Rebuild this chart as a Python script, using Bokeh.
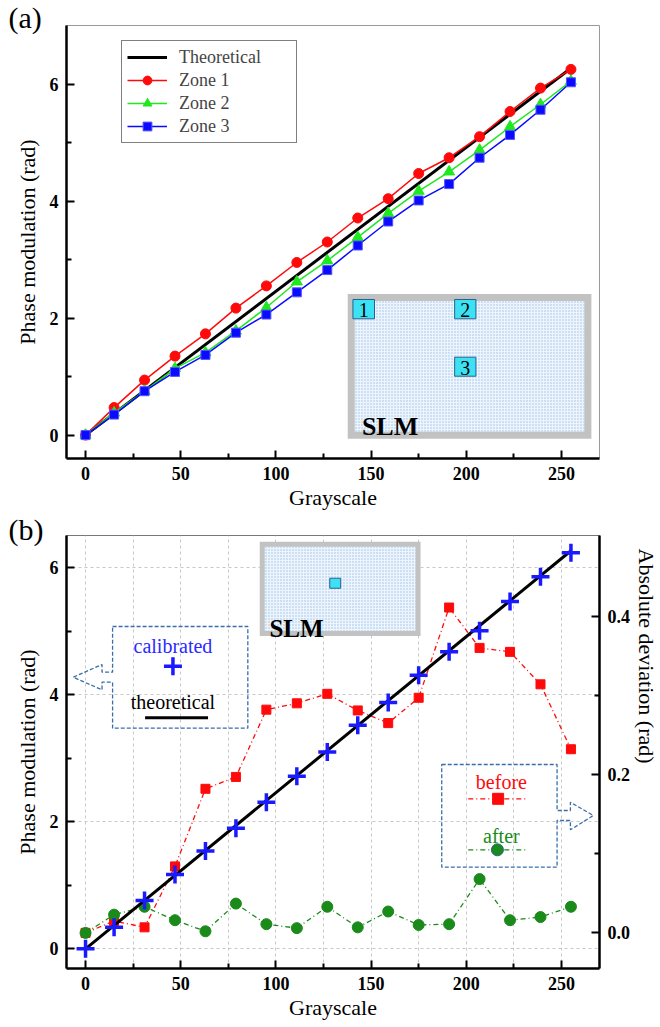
import math
from bokeh.plotting import figure
from bokeh.models import (Range1d, LinearAxis, FixedTicker, Legend, LegendItem,
                          Label, PrintfTickFormatter, Title)
from bokeh.layouts import column
from bokeh.embed import file_html
from bokeh.resources import INLINE

# ---------------- data ----------------
grayscale = [0, 15, 31, 47, 63, 79, 95, 111, 127, 143, 159, 175, 191, 207, 223, 239, 255]
zone1 = [0, 0.47, 0.94, 1.35, 1.73, 2.17, 2.55, 2.95, 3.30, 3.71, 4.04, 4.47, 4.74, 5.10, 5.53, 5.93, 6.25]
zone2 = [0, 0.38, 0.75, 1.14, 1.41, 1.78, 2.18, 2.62, 2.98, 3.38, 3.79, 4.17, 4.50, 4.87, 5.27, 5.65, 6.05]
zone3 = [0, 0.35, 0.75, 1.08, 1.37, 1.75, 2.06, 2.44, 2.82, 3.24, 3.65, 4.01, 4.29, 4.74, 5.13, 5.56, 6.03]
theory_x = [0, 255]
theory_y = [0, 6.27]
calibrated = [0, 0.34, 0.76, 1.17, 1.54, 1.90, 2.31, 2.72, 3.10, 3.52, 3.88, 4.31, 4.68, 5.01, 5.47, 5.86, 6.24]
before = [0.0, 0.015, 0.007, 0.084, 0.182, 0.197, 0.282, 0.290, 0.302, 0.281, 0.265, 0.297, 0.411, 0.360, 0.355, 0.314, 0.232]
after = [0.0, 0.023, 0.033, 0.016, 0.002, 0.037, 0.011, 0.006, 0.033, 0.007, 0.027, 0.010, 0.011, 0.068, 0.016, 0.020, 0.033]

x_ticks = [0, 50, 100, 150, 200, 250]
x_minor = [25, 75, 125, 175, 225]
y_ticks = [0, 2, 4, 6]
y_minor = [1, 3, 5]
dev_ticks = [0.0, 0.2, 0.4]
dev_minor = [0.1, 0.3]

SERIF = "Liberation Serif"
RED = "#ff0a0a"
GREEN_A = "#1ee81e"
BLUE_A = "#0a0aff"
GREEN_B = "#1a8a1a"
BLUE_B = "#1a1aff"
BOX = "#3a6ea8"
HATCH = "#8db7e6"


def style_axis(ax, label_standoff=2):
    ax.axis_line_width = 2.5
    ax.axis_line_color = "black"
    ax.major_tick_in = 8
    ax.major_tick_out = 0
    ax.minor_tick_in = 5
    ax.minor_tick_out = 0
    ax.major_tick_line_width = 2
    ax.minor_tick_line_width = 2
    ax.major_tick_line_color = "black"
    ax.minor_tick_line_color = "black"
    ax.major_label_text_font = SERIF
    ax.major_label_text_font_style = "bold"
    ax.major_label_text_font_size = "18px"
    ax.major_label_text_color = "black"
    ax.major_label_standoff = 8
    ax.axis_label_text_font = SERIF
    ax.axis_label_text_font_style = "normal"
    ax.axis_label_text_font_size = "22px"
    ax.axis_label_text_color = "black"
    ax.axis_label_standoff = label_standoff


def style_title(t, standoff):
    t.align = "left"
    t.offset = -58
    t.standoff = standoff
    t.vertical_align = "bottom"
    t.text_font = SERIF
    t.text_font_size = "30px"
    t.text_font_style = "normal"
    t.text_color = "black"


def txt(p, x, y, text, size, color="black", bold=False, align="center", baseline="middle"):
    p.add_layout(Label(x=x, y=y, text=text,
                       text_font=SERIF, text_font_size=size, text_color=color,
                       text_font_style="bold" if bold else "normal",
                       text_align=align, text_baseline=baseline))


# ---------------- panel (a) ----------------
pa = figure(width=660, height=512, x_range=Range1d(-10, 270), y_range=Range1d(-0.4, 7.0),
            title="(a)", output_backend="svg", toolbar_location=None,
            min_border_left=66, min_border_right=58, min_border_top=25, min_border_bottom=54)
style_title(pa.title, -16)
pa.grid.visible = False
pa.outline_line_color = "#999999"
pa.outline_line_width = 1
pa.xaxis.ticker = FixedTicker(ticks=x_ticks, minor_ticks=x_minor)
pa.yaxis.ticker = FixedTicker(ticks=y_ticks, minor_ticks=y_minor)
pa.xaxis.axis_label = "Grayscale"
pa.yaxis.axis_label = "Phase modulation (rad)"
style_axis(pa.xaxis[0], 2)
style_axis(pa.yaxis[0], 7)


# SLM inset (a)  (reference-pixel -> data helpers, decoration only)
def ax_(px):
    return (px - 85.1) / 1.9143


def ay_(py):
    return (434.6 - py) / 58.51


pa.quad(left=[ax_(352.3)], right=[ax_(590.3)], bottom=[ay_(434.7)], top=[ay_(297.0)],
        fill_color="#edf4fc", hatch_pattern="dot", hatch_color=HATCH, hatch_scale=3,
        hatch_weight=1, hatch_alpha=0.85, line_color="#c2c2c2", line_width=7, line_join="miter")
for (l, r, t, b, s) in [(354, 375.7, 299, 318.3, "1"), (456.3, 477.7, 299, 318.3, "2"),
                        (456.3, 477.7, 356.7, 375.7, "3")]:
    pa.quad(left=[ax_(l)], right=[ax_(r)], top=[ay_(t)], bottom=[ay_(b)],
            fill_color="#3ce2f4", line_color="#2d5f8f", line_width=1)
    txt(pa, ax_((l + r) / 2), ay_((t + b) / 2 + 1), s, "20px")
txt(pa, ax_(363), ay_(425.7), "SLM", "26px", bold=True, align="left", baseline="alphabetic")

l0 = pa.line(theory_x, theory_y, line_color="black", line_width=3)
l1 = pa.line(grayscale, zone1, line_color=RED, line_width=1.5)
m1 = pa.scatter(grayscale, zone1, marker="circle", size=10, fill_color=RED, line_color=RED)
l2 = pa.line(grayscale, zone2, line_color=GREEN_A, line_width=1.5)
m2 = pa.scatter(grayscale, zone2, marker="triangle", size=11, fill_color=GREEN_A, line_color=GREEN_A)
l3 = pa.line(grayscale, zone3, line_color=BLUE_A, line_width=1.5)
m3 = pa.scatter(grayscale, zone3, marker="square", size=9, fill_color=BLUE_A, line_color="#5555ff")

legend = Legend(items=[LegendItem(label="Theoretical", renderers=[l0]),
                       LegendItem(label="Zone 1", renderers=[l1, m1]),
                       LegendItem(label="Zone 2", renderers=[l2, m2]),
                       LegendItem(label="Zone 3", renderers=[l3, m3])],
                location=(55, 315), border_line_color="black", border_line_width=1.2,
                padding=5, spacing=1, glyph_width=40, glyph_height=22, label_height=22,
                label_width=112, label_standoff=12, margin=0,
                label_text_font=SERIF, label_text_font_size="18px")
pa.add_layout(legend)

# ---------------- panel (b) ----------------
pb = figure(width=660, height=513, x_range=Range1d(-10, 270), y_range=Range1d(-0.31, 6.51),
            title="(b)", output_backend="svg", toolbar_location=None,
            min_border_left=66, min_border_right=58, min_border_top=23, min_border_bottom=57)
style_title(pb.title, -20)
pb.outline_line_color = "#777777"
pb.outline_line_width = 1
pb.extra_y_ranges = {"dev": Range1d(-0.045, 0.502)}
pb.xaxis.ticker = FixedTicker(ticks=x_ticks, minor_ticks=x_minor)
pb.yaxis.ticker = FixedTicker(ticks=y_ticks, minor_ticks=y_minor)
pb.xaxis.axis_label = "Grayscale"
pb.yaxis.axis_label = "Phase modulation (rad)"
style_axis(pb.xaxis[0], 2)
style_axis(pb.yaxis[0], 7)
ax_r = LinearAxis(y_range_name="dev", ticker=FixedTicker(ticks=dev_ticks, minor_ticks=dev_minor),
                  formatter=PrintfTickFormatter(format="%.1f"))
style_axis(ax_r)
pb.add_layout(ax_r, "right")
pb.add_layout(Title(text="Absolute deviation (rad)", align="left", offset=13, standoff=0,
                    vertical_align="bottom", text_font=SERIF, text_font_size="22px",
                    text_font_style="normal", text_color="black"), "right")

pb.xgrid.ticker = FixedTicker(ticks=x_ticks + x_minor)
pb.ygrid.ticker = FixedTicker(ticks=y_ticks)
pb.grid.grid_line_color = "#c8c8c8"
pb.grid.grid_line_dash = "3 3"
pb.grid.grid_line_width = 1


def bx(px):
    return (px - 85.1) / 1.9143


def by(py):
    return (948.3 - py) / 63.49


# SLM inset (b)
pb.quad(left=[bx(262.8)], right=[bx(419.5)], top=[by(543.7)], bottom=[by(633.0)],
        fill_color="#edf4fc", hatch_pattern="dot", hatch_color=HATCH, hatch_scale=3,
        hatch_weight=1, hatch_alpha=0.85, line_color="#c2c2c2", line_width=5, line_join="miter")
pb.quad(left=[bx(330.7)], right=[bx(341.7)], top=[by(577.7)], bottom=[by(587.7)],
        fill_color="#3ce2f4", line_color="#2d5f8f", line_width=1)
txt(pb, bx(270), by(628.3), "SLM", "25px", bold=True, align="left", baseline="alphabetic")

# callouts
left_call = [(112.3, 626), (248.3, 626), (248.3, 727.7), (112.3, 727.7), (112.3, 681.7),
             (101.7, 681.7), (101.7, 689.3), (72.7, 676.7), (101.7, 664), (101.7, 671.7),
             (112.3, 671.7)]
right_call = [(443.3, 764), (559.3, 764), (559.3, 810), (572.7, 810), (572.7, 801.7),
              (595.7, 815), (572.7, 829.3), (572.7, 820), (559.3, 820), (559.3, 866.7),
              (443.3, 866.7)]
for poly in (left_call, right_call):
    pb.patch([bx(a) for a, _ in poly], [by(b) for _, b in poly], fill_alpha=0,
             line_color=BOX, line_width=1.3, line_dash="4 2")

# data series
pb.line(grayscale, before, y_range_name="dev", line_color=RED, line_width=1.3, line_dash="5 3 1 3")
pb.scatter(grayscale, before, y_range_name="dev", marker="square", size=9,
           fill_color=RED, line_color=RED)
pb.line(grayscale, after, y_range_name="dev", line_color=GREEN_B, line_width=1.3, line_dash="5 3 1 3")
pb.scatter(grayscale, after, y_range_name="dev", marker="circle", size=11,
           fill_color=GREEN_B, line_color=GREEN_B)
pb.line(theory_x, theory_y, line_color="black", line_width=3)
pb.scatter(grayscale, calibrated, marker="cross", size=18, line_width=3.5, line_color=BLUE_B)

# callout keys
txt(pb, bx(173), by(645), "calibrated", "20px", color="#2a2aff")
pb.scatter([bx(173)], [by(665.7)], marker="cross", size=18, line_width=3.5, line_color=BLUE_B)
txt(pb, bx(173), by(701.7), "theoretical", "20px")
pb.line([bx(145), bx(208.3)], [by(717.3), by(717.3)], line_color="black", line_width=3)

txt(pb, bx(503.3), by(781.7), "before", "20px", color=RED)
pb.line([bx(470), bx(530)], [by(798.3), by(798.3)], line_color=RED, line_width=1.3, line_dash="5 3 1 3")
pb.scatter([bx(500)], [by(798.3)], marker="square", size=11, fill_color=RED, line_color=RED)
txt(pb, bx(503.3), by(835), "after", "20px", color=GREEN_B)
pb.line([bx(470), bx(530)], [by(849.3), by(849.3)], line_color=GREEN_B, line_width=1.3, line_dash="5 3 1 3")
pb.scatter([bx(499.3)], [by(849.3)], marker="circle", size=12, fill_color=GREEN_B, line_color="#2d5f8f")

layout = column(pa, pb, spacing=0)
open("out.html", "w").write(file_html(layout, INLINE))
